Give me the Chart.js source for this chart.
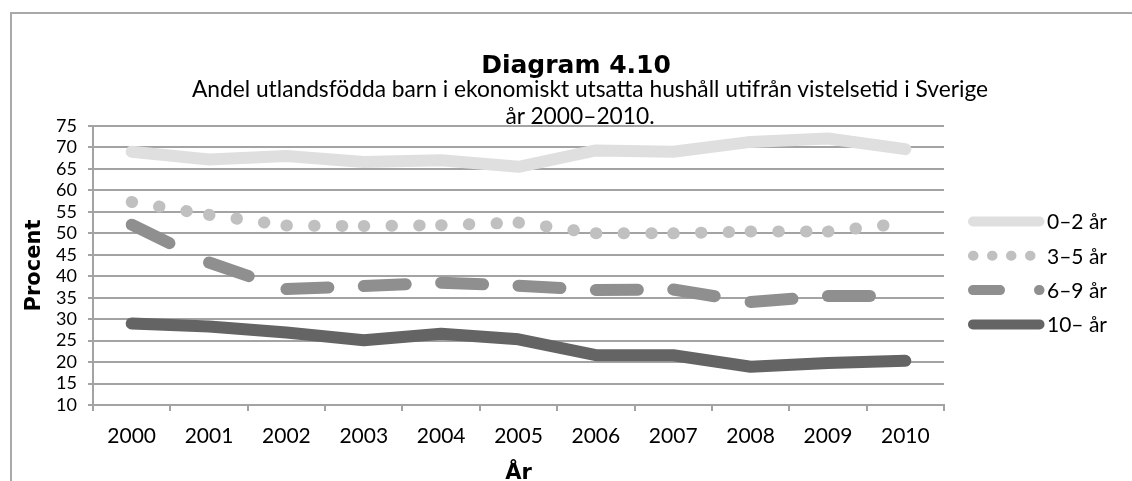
<!DOCTYPE html>
<html>
<head>
<meta charset="utf-8">
<script src="https://cdn.jsdelivr.net/npm/chart.js@4"></script>
<style>
    body { margin: 0; background: #fff; }
    #wrap { position: relative; width: 1132px; height: 481px; overflow: hidden; font-family: Lato, "Noto Sans", sans-serif; }
    #frame { position: absolute; left: 10px; top: 12px; width: 1200px; height: 600px; border-left: 2px solid #a9a9a9; border-top: 2px solid #a9a9a9; }
    #chart { position: absolute; left: 0; top: 0; }
    .head { position: absolute; left: 0; text-align: center; color: #000; white-space: nowrap; }
    #title { top: 50px; width: 1152px; font-family: "DejaVu Sans", sans-serif; font-size: 25px; line-height: 30px; font-weight: bold; }
    #sub1 { top: 75px; width: 1180px; font-size: 22.75px; line-height: 27px; }
    #sub2 { top: 102px; width: 1160px; font-size: 22.75px; line-height: 27px; }
</style>
</head>
<body>
<div id="wrap">
    <div id="frame"></div>
    <canvas id="chart" width="1132" height="481"></canvas>
    <div class="head" id="title">Diagram 4.10</div>
    <div class="head" id="sub1">Andel utlandsfödda barn i ekonomiskt utsatta hushåll utifrån vistelsetid i Sverige</div>
    <div class="head" id="sub2">år 2000–2010.</div>
</div>
<script>
    // data
    const years = ['2000', '2001', '2002', '2003', '2004', '2005', '2006', '2007', '2008', '2009', '2010'];
    const seriesLabels = ['0–2 år', '3–5 år', '6–9 år', '10– år'];
    const age0to2 = [69.0, 67.2, 68.0, 66.6, 67.0, 65.5, 69.3, 69.0, 71.3, 72.1, 69.6];
    const age3to5 = [57.3, 54.3, 51.8, 51.7, 51.9, 52.5, 50.0, 50.0, 50.4, 50.4, 52.4];
    const age6to9 = [52.0, 43.2, 37.0, 37.7, 38.5, 37.8, 36.8, 36.9, 34.0, 35.4, 35.4];
    const age10up = [29.0, 28.3, 26.9, 25.1, 26.6, 25.3, 21.6, 21.6, 18.9, 19.8, 20.3];
    const yMin = 10, yMax = 75, yStep = 5;

    const gridColor = '#a3a3a3';
    const dotDash = [0.5, 27.2];
    const longDash = [42, 50];
    const boldFont = '"DejaVu Sans", sans-serif';

    Chart.defaults.font.family = 'Lato, "Noto Sans", sans-serif';
    Chart.defaults.color = '#000';

    // excel restarts the dash pattern at every point, so split the line per segment
    const restartDash = (dash) => ({
        borderDashOffset: (c) => c.p0DataIndex * (dash[0] + dash[1])
    });

    const sideLegend = {
        id: 'sideLegend',
        afterDraw(chart, args, opts) {
            const ctx = chart.ctx;
            chart.data.datasets.forEach((ds, i) => {
                const y = opts.top + i * opts.step;
                ctx.save();
                ctx.strokeStyle = ds.borderColor;
                ctx.lineWidth = opts.lineWidth;
                ctx.lineCap = 'round';
                ctx.setLineDash(opts.dashes[i]);
                ctx.beginPath();
                ctx.moveTo(opts.x1, y);
                ctx.lineTo(opts.x2, y);
                ctx.stroke();
                ctx.setLineDash([]);
                ctx.fillStyle = '#000';
                ctx.font = opts.font;
                ctx.textBaseline = 'middle';
                ctx.fillText(ds.label, opts.textX, y + 1);
                ctx.restore();
            });
        }
    };

    const lineBase = {
        pointRadius: 0,
        pointHoverRadius: 0,
        tension: 0,
        fill: false,
        borderWidth: 12,
        borderCapStyle: 'round',
        borderJoinStyle: 'round'
    };

    new Chart(document.getElementById('chart'), {
        type: 'line',
        data: {
            labels: years,
            datasets: [
                {...lineBase, label: seriesLabels[0], data: age0to2, borderColor: '#dfdfdf'},
                {...lineBase, label: seriesLabels[1], data: age3to5, borderColor: '#c0c0c0', borderDash: dotDash, segment: restartDash(dotDash)},
                {...lineBase, label: seriesLabels[2], data: age6to9, borderColor: '#8f8f8f', borderDash: longDash, segment: restartDash(longDash)},
                {...lineBase, label: seriesLabels[3], data: age10up, borderColor: '#646464'}
            ]
        },
        options: {
            responsive: false,
            animation: false,
            events: [],
            layout: {padding: {top: 126, right: 188, bottom: 0, left: 0}},
            scales: {
                x: {
                    offset: true,
                    grid: {drawOnChartArea: false, drawTicks: true, tickLength: 6, color: gridColor, lineWidth: 2, offset: true},
                    border: {color: gridColor, width: 2},
                    ticks: {font: {size: 21}, padding: 13, maxRotation: 0, autoSkip: false},
                    title: {display: true, text: 'År', font: {family: boldFont, size: 21, weight: 'bold'}, padding: {top: 0, bottom: -5}},
                    afterFit: (s) => { s.height = 76; }
                },
                y: {
                    min: yMin,
                    max: yMax,
                    grid: {color: gridColor, lineWidth: 2, tickLength: 5},
                    border: {color: gridColor, width: 2},
                    ticks: {stepSize: yStep, padding: 11, font: {size: 18}, autoSkip: false},
                    title: {display: true, text: 'Procent', font: {family: boldFont, size: 21, weight: 'bold'}, padding: {top: 22, bottom: 0}},
                    afterFit: (s) => { s.width = 93; }
                }
            },
            plugins: {
                legend: {display: false},
                tooltip: {enabled: false},
                sideLegend: {
                    x1: 973, x2: 1039.5, textX: 1047, top: 221.5, step: 34.3, lineWidth: 10,
                    font: '21px Lato, "Noto Sans", sans-serif',
                    dashes: [[], [0.5, 18.5], [27, 39], []]
                }
            }
        },
        plugins: [sideLegend]
    });
</script>
</body>
</html>
